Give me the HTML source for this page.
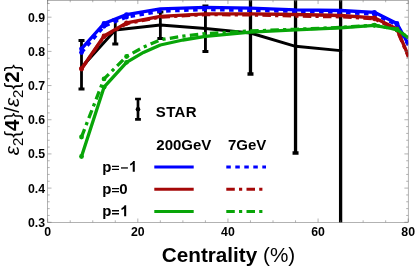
<!DOCTYPE html><html><head><meta charset="utf-8"><style>
html,body{margin:0;padding:0;background:#fff;overflow:hidden}
svg{display:block;will-change:transform}
text{font-family:"Liberation Sans",sans-serif;fill:#000}
</style></head><body>
<svg width="415" height="268" viewBox="0 0 415 268">
<rect width="415" height="268" fill="#fff"/>
<defs><clipPath id="c"><rect x="47.7" y="0" width="360.5" height="222.5"/></clipPath></defs>
<g clip-path="url(#c)" fill="none" stroke-linejoin="round">
<polyline points="81.50,67.50 115.29,30.00 160.36,25.00 205.42,28.50 250.48,33.00 295.54,46.30 340.61,50.60" stroke="#000" stroke-width="2.9"/>
<path d="M81.50 40.5V89M78.50 40.5h6M78.50 89h6" stroke="#000" stroke-width="2.8"/>
<path d="M115.29 20V44M112.29 20h6M112.29 44h6" stroke="#000" stroke-width="2.8"/>
<path d="M160.36 12V38.5M157.36 12h6M157.36 38.5h6" stroke="#000" stroke-width="2.8"/>
<path d="M205.42 6V51.5M202.42 6h6M202.42 51.5h6" stroke="#000" stroke-width="2.9"/>
<path d="M250.48 -20V74M247.48 -20h6M247.48 74h6" stroke="#000" stroke-width="3.3"/>
<path d="M295.54 -20V153M292.54 -20h6M292.54 153h6" stroke="#000" stroke-width="3.3"/>
<path d="M340.61 -20V300M337.61 -20h6M337.61 300h6" stroke="#000" stroke-width="3.3"/>
<circle cx="81.496875" cy="67.5" r="1.6" fill="#000"/>
<circle cx="115.29375" cy="30" r="1.6" fill="#000"/>
<circle cx="160.35625" cy="25" r="1.6" fill="#000"/>
<circle cx="205.41875" cy="28.5" r="1.6" fill="#000"/>
<circle cx="250.48125" cy="33" r="1.6" fill="#000"/>
<circle cx="295.54375" cy="46.3" r="1.6" fill="#000"/>
<circle cx="340.60625" cy="50.6" r="1.6" fill="#000"/>
<polyline points="81.50,48.80 104.03,23.50 126.56,14.60 160.36,8.80 205.42,7.30 250.48,8.10 295.54,9.80 340.61,10.50 374.40,12.30 396.93,23.50 408.50,44.50" stroke="#0000ff" stroke-width="3.3"/>
<circle cx="81.50" cy="48.80" r="2.4" fill="#0000ff"/>
<circle cx="104.03" cy="23.50" r="2.4" fill="#0000ff"/>
<circle cx="126.56" cy="14.60" r="2.4" fill="#0000ff"/>
<circle cx="374.40" cy="12.30" r="2.4" fill="#0000ff"/>
<circle cx="396.93" cy="23.50" r="2.4" fill="#0000ff"/>
<polyline points="81.50,52.50 104.03,26.30 126.56,17.00 160.36,11.20 205.42,9.60 250.48,10.40 295.54,11.40 340.61,12.40 374.40,14.30 396.93,24.80 408.50,45.50" stroke="#0000ff" stroke-width="3.3" stroke-dasharray="4.5 4.5"/>
<circle cx="81.50" cy="52.50" r="2.4" fill="#0000ff"/>
<circle cx="104.03" cy="26.30" r="2.4" fill="#0000ff"/>
<circle cx="126.56" cy="17.00" r="2.4" fill="#0000ff"/>
<circle cx="374.40" cy="14.30" r="2.4" fill="#0000ff"/>
<circle cx="396.93" cy="24.80" r="2.4" fill="#0000ff"/>
<polyline points="81.50,68.60 104.03,36.00 126.56,22.80 160.36,16.30 205.42,13.80 250.48,13.80 295.54,14.50 340.61,15.50 374.40,17.80 396.93,29.00 408.50,56.00" stroke="#a50808" stroke-width="3.3"/>
<circle cx="81.50" cy="68.60" r="2.4" fill="#a50808"/>
<circle cx="104.03" cy="36.00" r="2.4" fill="#a50808"/>
<circle cx="126.56" cy="22.80" r="2.4" fill="#a50808"/>
<circle cx="374.40" cy="17.80" r="2.4" fill="#a50808"/>
<circle cx="396.93" cy="29.00" r="2.4" fill="#a50808"/>
<polyline points="81.50,69.00 104.03,36.70 126.56,23.60 160.36,17.10 205.42,14.60 250.48,14.90 295.54,16.00 340.61,16.80 374.40,18.80 396.93,30.00 408.50,57.00" stroke="#a50808" stroke-width="3.3" stroke-dasharray="8.5 4.2 3.2 4.3"/>
<circle cx="81.50" cy="69.00" r="2.4" fill="#a50808"/>
<circle cx="104.03" cy="36.70" r="2.4" fill="#a50808"/>
<circle cx="126.56" cy="23.60" r="2.4" fill="#a50808"/>
<circle cx="374.40" cy="18.80" r="2.4" fill="#a50808"/>
<circle cx="396.93" cy="30.00" r="2.4" fill="#a50808"/>
<polyline points="81.50,156.50 104.03,87.20 126.56,62.30 143.46,52.40 160.36,45.00 182.89,40.00 205.42,36.30 250.48,32.20 295.54,29.80 340.61,27.80 374.40,25.30 396.93,29.50 408.50,38.00" stroke="#08a508" stroke-width="3.3"/>
<circle cx="81.50" cy="156.50" r="2.4" fill="#08a508"/>
<circle cx="104.03" cy="87.20" r="2.4" fill="#08a508"/>
<circle cx="126.56" cy="62.30" r="2.4" fill="#08a508"/>
<circle cx="374.40" cy="25.30" r="2.4" fill="#08a508"/>
<circle cx="396.93" cy="29.50" r="2.4" fill="#08a508"/>
<polyline points="81.50,137.00 104.03,78.90 126.56,56.50 143.46,47.20 160.36,39.80 182.89,36.20 205.42,33.60 250.48,31.00 295.54,29.30 340.61,27.40 374.40,25.10 396.93,29.50 408.50,38.00" stroke="#08a508" stroke-width="3.3" stroke-dasharray="8.5 4.2 3.2 4.3"/>
<circle cx="81.50" cy="137.00" r="2.4" fill="#08a508"/>
<circle cx="104.03" cy="78.90" r="2.4" fill="#08a508"/>
<circle cx="126.56" cy="56.50" r="2.4" fill="#08a508"/>
<circle cx="374.40" cy="25.10" r="2.4" fill="#08a508"/>
<circle cx="396.93" cy="29.50" r="2.4" fill="#08a508"/>
</g>
<rect x="47.7" y="0.25" width="360.5" height="222.05" fill="none" stroke="#666" stroke-width="0.5"/>
<path d="M47.7 222.3v-3.8M47.7 0.25v3.8M70.23125 222.3v-2.0M70.23125 0.25v2.0M92.7625 222.3v-2.0M92.7625 0.25v2.0M115.29375 222.3v-2.0M115.29375 0.25v2.0M137.825 222.3v-3.8M137.825 0.25v3.8M160.35625 222.3v-2.0M160.35625 0.25v2.0M182.8875 222.3v-2.0M182.8875 0.25v2.0M205.41875 222.3v-2.0M205.41875 0.25v2.0M227.95 222.3v-3.8M227.95 0.25v3.8M250.48125 222.3v-2.0M250.48125 0.25v2.0M273.0125 222.3v-2.0M273.0125 0.25v2.0M295.54375 222.3v-2.0M295.54375 0.25v2.0M318.075 222.3v-3.8M318.075 0.25v3.8M340.60625 222.3v-2.0M340.60625 0.25v2.0M363.1375 222.3v-2.0M363.1375 0.25v2.0M385.66875 222.3v-2.0M385.66875 0.25v2.0M408.2 222.3v-3.8M408.2 0.25v3.8M47.7 222.28h3.8M408.2 222.28h-3.8M47.7 215.44h2.0M408.2 215.44h-2.0M47.7 208.61h2.0M408.2 208.61h-2.0M47.7 201.77h2.0M408.2 201.77h-2.0M47.7 194.94h2.0M408.2 194.94h-2.0M47.7 188.10h3.8M408.2 188.10h-3.8M47.7 181.26h2.0M408.2 181.26h-2.0M47.7 174.43h2.0M408.2 174.43h-2.0M47.7 167.59h2.0M408.2 167.59h-2.0M47.7 160.76h2.0M408.2 160.76h-2.0M47.7 153.92h3.8M408.2 153.92h-3.8M47.7 147.08h2.0M408.2 147.08h-2.0M47.7 140.25h2.0M408.2 140.25h-2.0M47.7 133.41h2.0M408.2 133.41h-2.0M47.7 126.58h2.0M408.2 126.58h-2.0M47.7 119.74h3.8M408.2 119.74h-3.8M47.7 112.90h2.0M408.2 112.90h-2.0M47.7 106.07h2.0M408.2 106.07h-2.0M47.7 99.23h2.0M408.2 99.23h-2.0M47.7 92.40h2.0M408.2 92.40h-2.0M47.7 85.56h3.8M408.2 85.56h-3.8M47.7 78.72h2.0M408.2 78.72h-2.0M47.7 71.89h2.0M408.2 71.89h-2.0M47.7 65.05h2.0M408.2 65.05h-2.0M47.7 58.22h2.0M408.2 58.22h-2.0M47.7 51.38h3.8M408.2 51.38h-3.8M47.7 44.54h2.0M408.2 44.54h-2.0M47.7 37.71h2.0M408.2 37.71h-2.0M47.7 30.87h2.0M408.2 30.87h-2.0M47.7 24.04h2.0M408.2 24.04h-2.0M47.7 17.20h3.8M408.2 17.20h-3.8M47.7 10.36h2.0M408.2 10.36h-2.0M47.7 3.53h2.0M408.2 3.53h-2.0" stroke="#666" stroke-width="0.5" fill="none"/>
<text x="45.1" y="21.60" font-size="12.3" font-weight="bold" text-anchor="end">0.9</text>
<text x="45.1" y="55.78" font-size="12.3" font-weight="bold" text-anchor="end">0.8</text>
<text x="45.1" y="89.96" font-size="12.3" font-weight="bold" text-anchor="end">0.7</text>
<text x="45.1" y="124.14" font-size="12.3" font-weight="bold" text-anchor="end">0.6</text>
<text x="45.1" y="158.32" font-size="12.3" font-weight="bold" text-anchor="end">0.5</text>
<text x="45.1" y="192.50" font-size="12.3" font-weight="bold" text-anchor="end">0.4</text>
<text x="45.1" y="226.68" font-size="12.3" font-weight="bold" text-anchor="end">0.3</text>
<text x="47.7" y="236.4" font-size="12.3" font-weight="bold" text-anchor="middle">0</text>
<text x="137.825" y="236.4" font-size="12.3" font-weight="bold" text-anchor="middle">20</text>
<text x="227.95" y="236.4" font-size="12.3" font-weight="bold" text-anchor="middle">40</text>
<text x="318.075" y="236.4" font-size="12.3" font-weight="bold" text-anchor="middle">60</text>
<text x="408.2" y="236.4" font-size="12.3" font-weight="bold" text-anchor="middle">80</text>
<text x="228.5" y="262.4" font-size="20.7" text-anchor="middle"><tspan font-weight="bold">Centrality</tspan> (%)</text>
<text transform="translate(18.7,109.8) rotate(-90)" font-size="20.5" text-anchor="middle"><tspan font-style="italic">ε</tspan><tspan font-size="15" dy="4.5">2</tspan><tspan dy="-4.5">{</tspan><tspan font-weight="bold">4</tspan>}/<tspan font-style="italic">ε</tspan><tspan font-size="15" dy="4.5">2</tspan><tspan dy="-4.5">{</tspan><tspan font-weight="bold">2</tspan>}</text>
<path d="M138 99V119.3M135.1 99h5.8M135.1 119.3h5.8" stroke="#000" stroke-width="2.7" fill="none"/><circle cx="138" cy="109.2" r="2.3"/>
<text x="155.8" y="116.6" font-size="15" font-weight="bold" letter-spacing="0.35">STAR</text>
<text x="156.3" y="149.6" font-size="15" font-weight="bold">200GeV</text>
<text x="228" y="149.6" font-size="15" font-weight="bold">7GeV</text>
<text x="102.2" y="171.75" font-size="15" font-weight="bold">p</text>
<path d="M112 166.35h7M112 169.35h7" stroke="#000" stroke-width="1.3"/>
<path d="M121 167.95h6.9" stroke="#000" stroke-width="1.3"/>
<path transform="translate(128.90,171.75) scale(0.015,-0.015)" d="M393 0H256V517Q181 447 79 413V538Q133 555 196 605Q259 654 282 719H393Z" fill="#000"/>
<path d="M154.3 167.0H193.7" stroke="#0000ff" stroke-width="3"/>
<path d="M226.3 167.0H266" stroke="#0000ff" stroke-width="3" stroke-dasharray="4.5 4.5"/>
<text x="102.2" y="193.95" font-size="15" font-weight="bold">p</text>
<path d="M112 188.55h7M112 191.55h7" stroke="#000" stroke-width="1.3"/>
<text x="119.3" y="193.95" font-size="15" font-weight="bold">0</text>
<path d="M154.3 189.2H193.7" stroke="#a50808" stroke-width="3"/>
<path d="M226.3 189.2H266" stroke="#a50808" stroke-width="3" stroke-dasharray="8.5 4.2 3.2 4.3"/>
<text x="102.2" y="216.15" font-size="15" font-weight="bold">p</text>
<path d="M112 210.75h7M112 213.75h7" stroke="#000" stroke-width="1.3"/>
<path transform="translate(120.30,216.15) scale(0.015,-0.015)" d="M393 0H256V517Q181 447 79 413V538Q133 555 196 605Q259 654 282 719H393Z" fill="#000"/>
<path d="M154.3 211.4H193.7" stroke="#08a508" stroke-width="3"/>
<path d="M226.3 211.4H266" stroke="#08a508" stroke-width="3" stroke-dasharray="8.5 4.2 3.2 4.3"/>
</svg></body></html>
